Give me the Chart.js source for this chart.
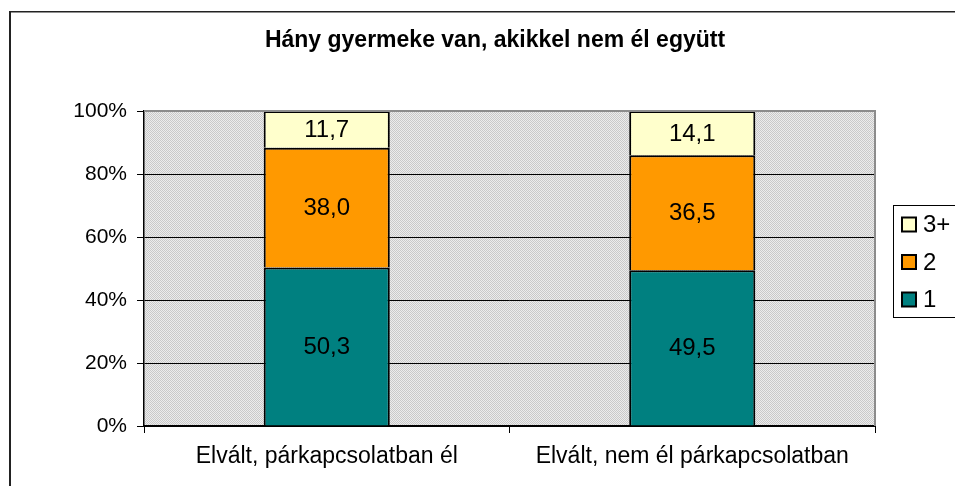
<!DOCTYPE html>
<html>
<head>
<meta charset="utf-8">
<script src="https://cdn.jsdelivr.net/npm/chart.js@4/dist/chart.umd.min.js"></script>
<style>
  html, body { margin: 0; padding: 0; background: #fff; }
  #wrap { width: 955px; height: 486px; position: relative; }
</style>
</head>
<body>
<div id="wrap"><canvas id="myChart" width="955" height="486"></canvas></div>
<script>
const FONT = "'Liberation Sans', Arial, sans-serif";
const chartTitle = "Hány gyermeke van, akikkel nem él együtt";
const categories = ["Elvált, párkapcsolatban él", "Elvált, nem él párkapcsolatban"];
const seriesNames = ["1", "2", "3+"];
const one = [50.3, 49.5];
const two = [38.0, 36.5];
const threePlus = [11.7, 14.1];
const tickValues = [0, 20, 40, 60, 80, 100];
const colors = ["#008080", "#FF9900", "#FFFFCC"];

const rawSeries = [one, two, threePlus];
const totals = categories.map((c, i) => one[i] + two[i] + threePlus[i]);
const toPct = (arr) => arr.map((v, i) => v / totals[i] * 100);

// hatched grey background of the plot area
function makePattern() {
  const p = document.createElement("canvas");
  p.width = 2; p.height = 2;
  const c = p.getContext("2d");
  c.fillStyle = "#ececec"; c.fillRect(0, 0, 2, 2);
  c.fillStyle = "#c9c9c9"; c.fillRect(0, 0, 1, 1); c.fillRect(1, 1, 1, 1);
  return p;
}

const decor = {
  id: "decor",
  beforeDraw(chart) {
    const { ctx, chartArea: a } = chart;
    ctx.save();
    ctx.fillStyle = ctx.createPattern(makePattern(), "repeat");
    ctx.fillRect(a.left, a.top, a.right - a.left, a.bottom - a.top);
    ctx.restore();
  },
  afterDatasetsDraw(chart) {
    const { ctx } = chart;
    ctx.save();
    ctx.font = "24px " + FONT;
    ctx.fillStyle = "#000";
    ctx.textAlign = "center";
    ctx.textBaseline = "middle";
    chart.data.datasets.forEach((ds, di) => {
      chart.getDatasetMeta(di).data.forEach((el, i) => {
        const y = (el.y + el.base) / 2;
        ctx.fillText(rawSeries[di][i].toFixed(1).replace(".", ","), el.x, y + 1);
      });
    });
    ctx.restore();
  },
  afterDraw(chart) {
    const { ctx, chartArea: a } = chart;
    ctx.save();
    // plot border (top / right)
    ctx.fillStyle = "#8c8c8c";
    ctx.fillRect(a.left, a.top - 1, a.right - a.left + 1, 2);
    ctx.fillRect(a.right - 1, a.top - 1, 2, a.bottom - a.top + 1);
    // outer frame
    ctx.fillStyle = "#222";
    ctx.fillRect(9, 11, 946, 1.5);
    ctx.fillRect(9, 11, 2, 475);
    // title
    ctx.fillStyle = "#000";
    ctx.font = "bold 23px " + FONT;
    ctx.textAlign = "center";
    ctx.textBaseline = "middle";
    ctx.fillText(chartTitle, 495, 41);
    // legend
    ctx.strokeStyle = "#000";
    ctx.lineWidth = 1;
    ctx.strokeRect(893.5, 205.5, 100, 112);
    ctx.font = "24px " + FONT;
    ctx.textAlign = "left";
    const rows = [224.5, 262, 299.5];
    const order = chart.data.datasets.map((d, i) => i).reverse();
    order.forEach((di, r) => {
      const ds = chart.data.datasets[di];
      ctx.fillStyle = ds.backgroundColor;
      ctx.fillRect(902, rows[r] - 7, 14, 14);
      ctx.lineWidth = 2;
      ctx.strokeRect(902, rows[r] - 7, 14, 14);
      ctx.fillStyle = "#000";
      ctx.fillText(ds.label, 923, rows[r] + 1);
    });
    ctx.restore();
  }
};

const ctx = document.getElementById("myChart");
new Chart(ctx, {
  type: "bar",
  data: {
    labels: categories,
    datasets: seriesNames.map((name, i) => ({
      label: name,
      data: toPct(rawSeries[i]),
      backgroundColor: colors[i],
      borderColor: "#000",
      borderWidth: 2,
      barPercentage: 0.345,
      categoryPercentage: 1,
    })),
  },
  options: {
    responsive: false,
    animation: false,
    layout: { padding: { top: 111, right: 80, left: 0, bottom: 0 } },
    plugins: {
      legend: { display: false },
      title: { display: false },
      tooltip: { enabled: false },
    },
    scales: {
      x: {
        stacked: true,
        afterFit(s) { s.height = 60; },
        grid: { display: true, drawOnChartArea: false, drawTicks: true, tickLength: 7, tickColor: "#000", offset: true },
        border: { color: "#000", width: 2 },
        ticks: { color: "#000", font: { family: FONT, size: 23 }, padding: 10, maxRotation: 0 },
      },
      y: {
        stacked: true,
        min: 0,
        max: 100,
        afterFit(s) { s.width = 144; },
        afterBuildTicks(s) { s.ticks = tickValues.map(v => ({ value: v })); },
        grid: { color: "#000", lineWidth: 1, tickLength: 7, tickColor: "#000" },
        border: { color: "#000", width: 1.5 },
        ticks: { color: "#000", font: { family: FONT, size: 21 }, padding: 10, callback: (v) => v + "%" },
      },
    },
  },
  plugins: [decor],
});
</script>
</body>
</html>
